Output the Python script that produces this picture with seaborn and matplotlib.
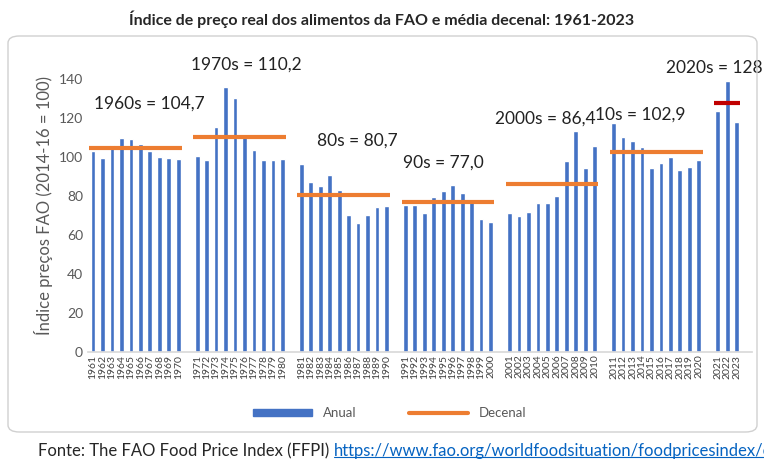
import numpy as np
import pandas as pd
import matplotlib
matplotlib.use('Agg')
import matplotlib.pyplot as plt
import seaborn as sns
from matplotlib.patches import FancyBboxPatch, Patch
from matplotlib.lines import Line2D

# ── Data ─────────────────────────────────────
years = list(range(1961, 2024))
anual = [103.4, 99.5, 106.2, 109.8, 109.3, 106.7, 103.4, 100.0, 99.5, 99.1,
         100.4, 98.7, 115.5, 136.0, 130.4, 111.4, 103.8, 98.7, 98.7, 99.0,
         96.4, 87.2, 85.1, 90.8, 83.1, 70.2, 66.1, 70.2, 74.3, 75.1,
         75.5, 75.5, 71.2, 79.6, 82.5, 85.6, 81.5, 77.9, 68.1, 66.6,
         71.2, 69.7, 72.1, 76.4, 76.4, 80.0, 98.0, 113.6, 94.4, 105.7,
         117.5, 110.3, 108.4, 105.2, 94.4, 96.8, 100.1, 93.4, 94.9, 98.5,
         123.5, 139.3, 118.1]
decade_labels = ["1960s = 104,7", "1970s = 110,2", "80s = 80,7", "90s = 77,0",
                 "2000s = 86,4", "10s = 102,9", "2020s = 128"]
decade_means = [104.7, 110.2, 80.7, 77.0, 86.4, 102.9, 128.0]
decade_label_x = [6.0, 16.2, 27.9, 37.0, 47.8, 57.8, 65.6]
decade_label_y = [127.5, 147.5, 108.4, 97, 120, 122, 146]

# build category slots with a blank gap between decades
labels, values = [], []
slot_ranges = []
blank = 0
for d in range(7):
    ys = [y for y in years if (y - 1961) // 10 == d]
    start = len(labels)
    for y in ys:
        labels.append(str(y))
        values.append(anual[years.index(y)])
    slot_ranges.append((start, len(labels) - 1))
    if d < 6:
        blank += 1
        labels.append(" " * blank)
        values.append(np.nan)
df = pd.DataFrame({"ano": labels, "valor": values})

sns.set_theme(style="white")
plt.rcParams['font.family'] = ['Lato', 'DejaVu Sans']

fig = plt.figure(figsize=(7.64, 4.68), dpi=100)
frame = FancyBboxPatch((8 / 764, 36 / 468), 749 / 764, 396 / 468,
                       boxstyle="round,pad=0,rounding_size=0.015",
                       transform=fig.transFigure, fill=False,
                       edgecolor="#d0d0d0", linewidth=1)
fig.patches.append(frame)

ax = fig.add_axes([0.115, 0.248, 0.869, 0.624])
sns.barplot(data=df, x="ano", y="valor", order=labels, color="#4472c4",
            width=0.5, saturation=1, ax=ax)

for d, (a, b) in enumerate(slot_ranges):
    col = "#c00000" if d == 6 else "#ed7d31"
    ax.hlines(decade_means[d], a - 0.4, b + 0.4, color=col, linewidth=3)
    ax.text(decade_label_x[d], decade_label_y[d], decade_labels[d],
            ha="center", va="center", fontsize=12.5, color="#222222")

ax.set_xlim(-0.55, 69.6)
ax.set_ylim(0, 150)
ax.set_yticks(range(0, 141, 20))
ax.tick_params(axis="y", labelsize=10, colors="#595959", length=0)
ax.tick_params(axis="x", labelsize=7.5, colors="#404040", rotation=90, length=0, pad=2)
ax.set_xlabel("")
ax.set_ylabel("Índice preços FAO (2014-16 = 100)", fontsize=12, color="#595959")
for s in ["top", "right", "left"]:
    ax.spines[s].set_visible(False)
ax.spines["bottom"].set_color("#d9d9d9")

fig.text(0.5, 1 - 19 / 468, "Índice de preço real dos alimentos da FAO e média decenal: 1961-2023",
         ha="center", va="center", fontsize=11.5, fontweight="bold")

handles = [Patch(color="#4472c4", label="Anual"),
           Line2D([], [], color="#ed7d31", linewidth=3, label="Decenal")]
fig.legend(handles=handles, loc="center", bbox_to_anchor=(0.51, 1 - 413 / 468),
           ncol=2, frameon=False, fontsize=9.5, handlelength=4.5,
           handleheight=0.5, columnspacing=4, labelcolor="#595959")

src = fig.text(38 / 764, 1 - 451 / 468, "Fonte: The FAO Food Price Index (FFPI) ",
               ha="left", va="center", fontsize=12)
fig.canvas.draw()
sb = src.get_window_extent().transformed(fig.transFigure.inverted())
url = fig.text(sb.x1, 1 - 451 / 468,
               "https://www.fao.org/worldfoodsituation/foodpricesindex/en/",
               ha="left", va="center", fontsize=12, color="#0563c1")
fig.canvas.draw()
bb = url.get_window_extent().transformed(fig.transFigure.inverted())
fig.lines.append(Line2D([bb.x0, bb.x1], [bb.y0 + 0.004, bb.y0 + 0.004],
                        transform=fig.transFigure, color="#0563c1", linewidth=0.8))

fig.savefig("out.png", dpi=100)
